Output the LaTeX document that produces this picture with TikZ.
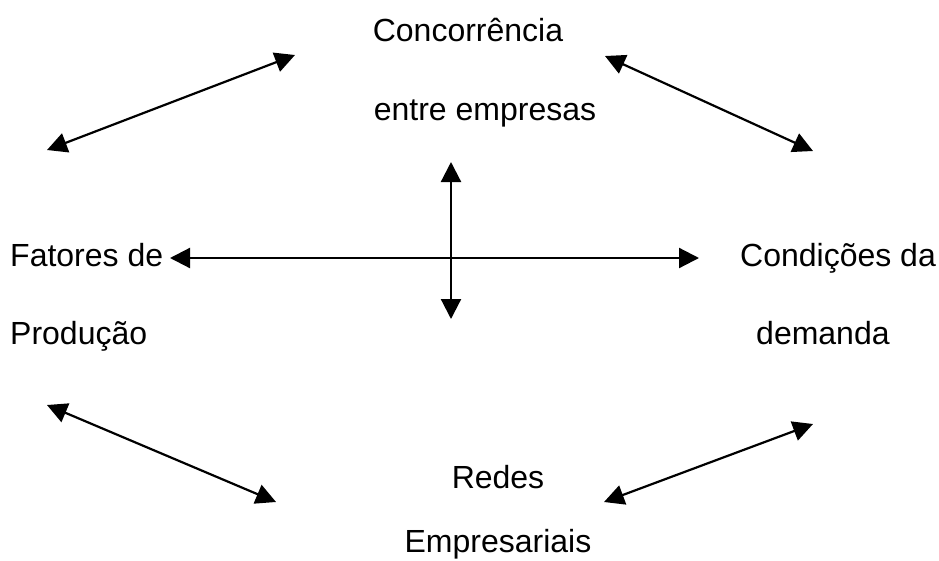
\documentclass[tikz,border=0pt]{standalone}
\usepackage{fontspec}
\setmainfont{Liberation Sans}
\usetikzlibrary{arrows.meta}
\tikzset{
  lbl/.style={inner sep=0pt, font=\fontsize{32}{38}\selectfont, anchor=base},
  dbl/.style={line width=2.2pt, {Triangle[length=20pt,width=20pt]}-{Triangle[length=20pt,width=20pt]}}
}
\begin{document}
\begin{tikzpicture}[x=1pt,y=-1pt]
\useasboundingbox (0,0) rectangle (939,560);
% labels
\node[lbl] (conc) at (468,41) {Concorrência};
\node[lbl] (entre) at (485,120) {entre empresas};
\node[lbl,anchor=base west] (fat) at (10,266) {Fatores de};
\node[lbl,anchor=base west] (prod) at (10,344) {Produção};
\node[lbl,anchor=base west] (cond) at (740,266) {Condições da};
\node[lbl,anchor=base west] (dem) at (756,344) {demanda};
\node[lbl] (redes) at (498,488) {Redes};
\node[lbl] (emp) at (498,552) {Empresariais};
% arrow end points
\coordinate (tl1) at (47,150);
\coordinate (tl2) at (295,55);
\coordinate (tr1) at (605,56);
\coordinate (tr2) at (813,151);
\coordinate (hl) at (170,258);
\coordinate (hr) at (699,258);
\coordinate (vt) at (451,162);
\coordinate (vb) at (451,319);
\coordinate (bl1) at (47,405);
\coordinate (bl2) at (276,502);
\coordinate (br1) at (604,502);
\coordinate (br2) at (813,424);
% arrows
\draw[dbl] (tl1) -- (tl2);
\draw[dbl] (tr1) -- (tr2);
\draw[dbl] (hl) -- (hr);
\draw[dbl] (vt) -- (vb);
\draw[dbl] (bl1) -- (bl2);
\draw[dbl] (br1) -- (br2);
\end{tikzpicture}
\end{document}
